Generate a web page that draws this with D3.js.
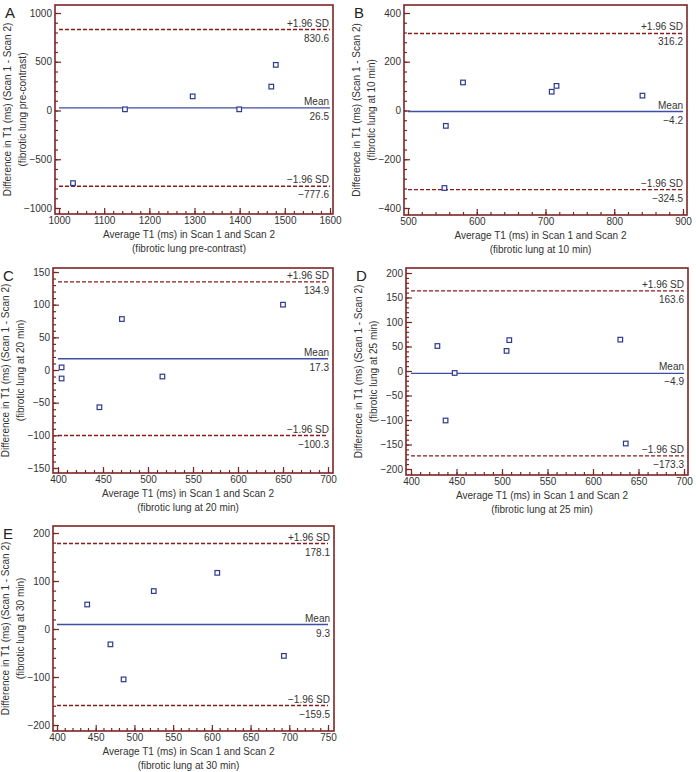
<!DOCTYPE html>
<html>
<head>
<meta charset="utf-8">
<script src="https://cdn.jsdelivr.net/npm/d3@7"></script>
<style>
  body { margin: 0; background: #fff; }
  svg { display: block; font-family: "Liberation Sans", Arial, sans-serif; }
  .tick text { fill: #333; font-size: 10px; }
</style>
</head>
<body>
<div id="grafico"></div>
<script>
// Datos de cada panel (media de T1 en x, diferencia en y)
const avgA = [1031, 1146, 1296, 1399, 1470, 1480];
const diffA = [-745, 12, 145, 12, 245, 468];
const statsA = [26.5, 830.6, -777.6]; // media, +1.96 SD, -1.96 SD
const xTicksA = [1000, 1100, 1200, 1300, 1400, 1500, 1600];
const yTicksA = [-1000, -500, 0, 500, 1000];

const avgB = [553, 555, 580, 709, 716, 841];
const diffB = [-318, -63, 115, 77, 101, 61];
const statsB = [-4.2, 316.2, -324.5];
const xTicksB = [500, 600, 700, 800, 900];
const yTicksB = [-400, -200, 0, 200, 400];

const avgC = [404, 404, 446, 471, 516, 650];
const diffC = [4, -13, -57, 78, -10, 100];
const statsC = [17.3, 134.9, -100.3];
const xTicksC = [400, 450, 500, 550, 600, 650, 700];
const yTicksC = [-150, -100, -50, 0, 50, 100, 150];

const avgD = [429, 438, 448, 505, 508, 630, 636];
const diffD = [51, -101, -4, 41, 63, 64, -148];
const statsD = [-4.9, 163.6, -173.3];
const xTicksD = [400, 450, 500, 550, 600, 650, 700];
const yTicksD = [-200, -150, -100, -50, 0, 50, 100, 150, 200];

const avgE = [439, 469, 486, 525, 607, 693];
const diffE = [51, -32, -105, 79, 117, -56];
const statsE = [9.3, 178.1, -159.5];
const xTicksE = [400, 450, 500, 550, 600, 650, 700, 750];
const yTicksE = [-200, -100, 0, 100, 200];

const subtitulos = ['pre-contrast', 'at 10 min', 'at 20 min', 'at 25 min', 'at 30 min'];

// Disposición de cada panel en la página
const paneles = [
  { letra: 'A', avg: avgA, diff: diffA, stats: statsA, xt: xTicksA, yt: yTicksA, xMinor: 20, yMinor: 100,
    frame: [55, 5, 333, 214], xr: [59, 330], yr: [208, 13] },
  { letra: 'B', avg: avgB, diff: diffB, stats: statsB, xt: xTicksB, yt: yTicksB, xMinor: 20, yMinor: 40,
    frame: [404, 5, 687, 215], xr: [408, 683], yr: [208, 13] },
  { letra: 'C', avg: avgC, diff: diffC, stats: statsC, xt: xTicksC, yt: yTicksC, xMinor: 10, yMinor: 10,
    frame: [53, 268, 333, 473], xr: [58, 328], yr: [468, 272] },
  { letra: 'D', avg: avgD, diff: diffD, stats: statsD, xt: xTicksD, yt: yTicksD, xMinor: 10, yMinor: 10,
    frame: [406, 268, 688, 475], xr: [411, 684], yr: [469, 273] },
  { letra: 'E', avg: avgE, diff: diffE, stats: statsE, xt: xTicksE, yt: yTicksE, xMinor: 10, yMinor: 20,
    frame: [53, 526, 334, 731], xr: [57, 328], yr: [725, 533] }
];

const svg = d3.select('#grafico')
  .append('svg')
  .attr('width', 696)
  .attr('height', 772);

const rojo = '#7d2424';
const azul = '#2e3a8f';
const fmt = d => d3.format('.1f')(d).replace('-', '\u2212');

paneles.forEach((p, i) => {
  const [fl, ft, fr, fb] = p.frame;
  const g = svg.append('g');

  const x = d3.scaleLinear()
    .domain([p.xt[0], p.xt[p.xt.length - 1]])
    .range(p.xr);
  const y = d3.scaleLinear()
    .domain([p.yt[0], p.yt[p.yt.length - 1]])
    .range(p.yr);

  // Marcas menores
  const xMin = d3.range(x.domain()[0], x.domain()[1] + 0.001, p.xMinor);
  const yMin = d3.range(y.domain()[0], y.domain()[1] + 0.001, p.yMinor);

  g.append('g')
    .attr('transform', `translate(0, ${fb})`)
    .call(d3.axisBottom(x).tickValues(xMin).tickSizeInner(-3).tickSizeOuter(0).tickFormat(''));
  g.append('g')
    .attr('transform', `translate(${fl}, 0)`)
    .call(d3.axisLeft(y).tickValues(yMin).tickSizeInner(-3).tickSizeOuter(0).tickFormat(''));

  // Ejes principales
  g.append('g')
    .attr('transform', `translate(0, ${fb})`)
    .call(d3.axisBottom(x).tickValues(p.xt).tickSizeInner(-6).tickSizeOuter(0).tickPadding(3)
      .tickFormat(d => String(d).replace('-', '\u2212')));
  g.append('g')
    .attr('transform', `translate(${fl}, 0)`)
    .call(d3.axisLeft(y).tickValues(p.yt).tickSizeInner(-6).tickSizeOuter(0).tickPadding(3)
      .tickFormat(d => String(d).replace('-', '\u2212')));

  g.selectAll('.domain').remove();
  g.selectAll('.tick line').attr('stroke', rojo).attr('stroke-width', 1.2);

  // Líneas de media y límites de concordancia
  const [media, sup, inf] = p.stats;
  g.append('line')
    .attr('x1', x.range()[0]).attr('x2', x.range()[1])
    .attr('y1', y(media)).attr('y2', y(media))
    .attr('stroke', '#3f4ea3').attr('stroke-width', 1.4);

  [sup, inf].forEach(v => {
    g.append('line')
      .attr('x1', x.range()[0]).attr('x2', x.range()[1])
      .attr('y1', y(v)).attr('y2', y(v))
      .attr('stroke', '#8b1c1c').attr('stroke-width', 1.4)
      .attr('stroke-dasharray', '4,2');
  });

  const etiquetas = [['Mean', media], ['+1.96 SD', sup], ['\u22121.96 SD', inf]];
  etiquetas.forEach(([txt, v]) => {
    g.append('text')
      .attr('x', fr - 4).attr('y', y(v) - 3)
      .attr('text-anchor', 'end')
      .attr('font-size', 10).attr('fill', '#333')
      .text(txt);
    g.append('text')
      .attr('x', fr - 4).attr('y', y(v) + 12)
      .attr('text-anchor', 'end')
      .attr('font-size', 10).attr('fill', '#333')
      .text(fmt(v));
  });

  // Puntos (cuadrados huecos)
  g.selectAll('rect.punto')
    .data(p.avg.map((a, k) => [a, p.diff[k]]))
    .enter()
    .append('rect')
    .attr('class', 'punto')
    .attr('x', d => x(d[0]) - 2.3)
    .attr('y', d => y(d[1]) - 2.3)
    .attr('width', 4.6)
    .attr('height', 4.6)
    .attr('fill', '#fff')
    .attr('stroke', azul)
    .attr('stroke-width', 1.2);

  // Marco
  g.append('rect')
    .attr('x', fl).attr('y', ft)
    .attr('width', fr - fl).attr('height', fb - ft)
    .attr('fill', 'none')
    .attr('stroke', rojo)
    .attr('stroke-width', 1.6);

  // Títulos de ejes
  const cx = (fl + fr) / 2 - 5;
  g.append('text')
    .attr('x', cx).attr('y', fb + 24)
    .attr('text-anchor', 'middle').attr('font-size', 10).attr('fill', '#333')
    .text('Average T1 (ms) in Scan 1 and Scan 2');
  g.append('text')
    .attr('x', cx).attr('y', fb + 38)
    .attr('text-anchor', 'middle').attr('font-size', 10).attr('fill', '#333')
    .text(`(fibrotic lung ${subtitulos[i]})`);

  const cy = (ft + fb) / 2;
  const lx = fl - 44;
  g.append('text')
    .attr('transform', `translate(${lx}, ${cy}) rotate(-90)`)
    .attr('text-anchor', 'middle').attr('font-size', 10).attr('fill', '#333')
    .text('Difference in T1 (ms) (Scan 1 - Scan 2)');
  g.append('text')
    .attr('transform', `translate(${lx + 15}, ${cy}) rotate(-90)`)
    .attr('text-anchor', 'middle').attr('font-size', 10).attr('fill', '#333')
    .text(`(fibrotic lung ${subtitulos[i]})`);

  // Letra del panel
  g.append('text')
    .attr('x', fl - 50).attr('y', ft + 13)
    .attr('font-size', 15).attr('fill', '#222')
    .text(p.letra);
});
</script>
</body>
</html>
